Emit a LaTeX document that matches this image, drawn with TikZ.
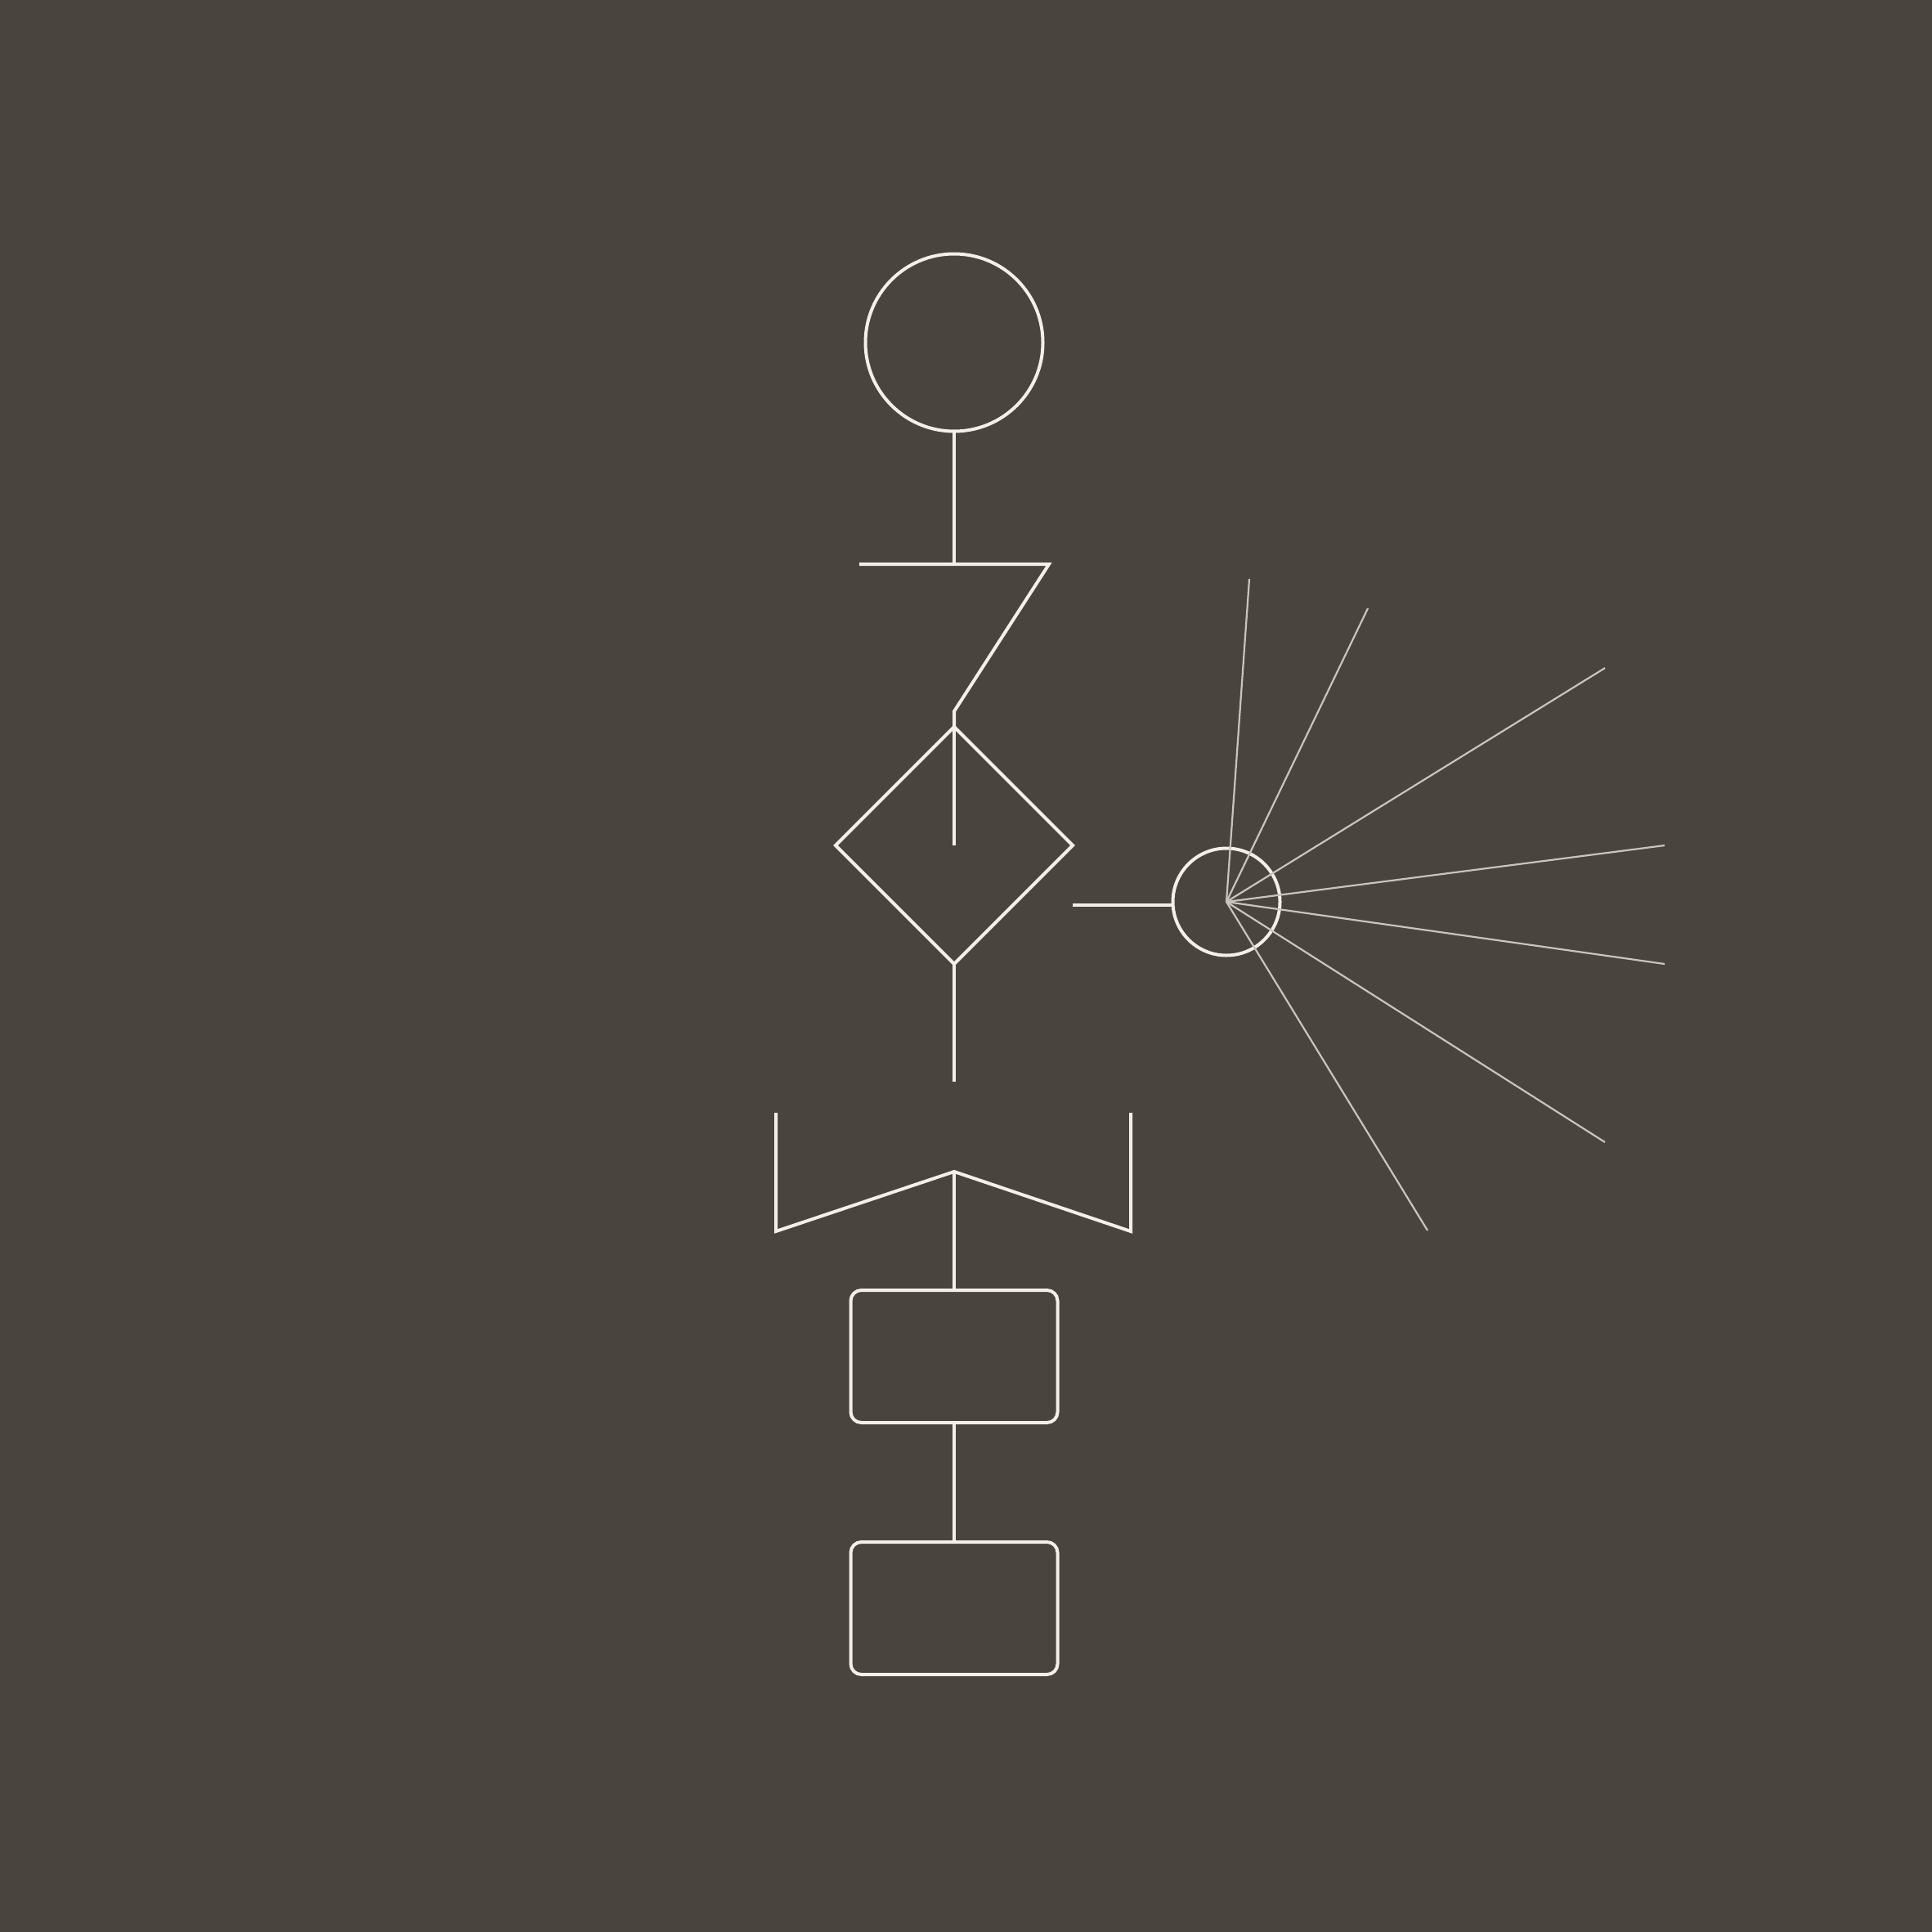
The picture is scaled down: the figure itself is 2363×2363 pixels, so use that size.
\documentclass[tikz,border=0pt]{standalone}
\usepackage{xcolor}
\usepackage{tikz}
\usetikzlibrary{positioning, shapes.geometric, calc}

\definecolor{bgbrown}{HTML}{4A443F}
\definecolor{chalk}{HTML}{F4F0E8}
\definecolor{ash}{HTML}{C9C4BC}

\tikzset{
  stroke/.style={draw=chalk, line width=4pt},
  ray/.style={draw=ash, line width=2.2pt},
  ring/.style={circle, stroke, inner sep=0pt, outer sep=0pt},
  card/.style={rectangle, stroke, rounded corners=13pt, minimum width=253pt, minimum height=162pt, inner sep=0pt, outer sep=0pt},
  rhomb/.style={diamond, aspect=1, stroke, minimum size=290pt, inner sep=0pt, outer sep=0pt}
}

\begin{document}
\begin{tikzpicture}[x=1pt, y=-1pt]
    % background
    \fill[bgbrown] (0,0) rectangle (2363,2363);

    % main column
    \node[ring, minimum size=217pt] (start) at (1167,419) {};
    \node[rhomb] (decision) at (1167,1034) {};
    \node[card] (taskA) at (1167,1659) {};
    \node[card] (taskB) at (1167,1967) {};
    \node[ring, minimum size=131pt] (merge) at (1500,1103) {};

    \coordinate (barL) at (1051,690);
    \coordinate (barM) at (1167,690);
    \coordinate (barR) at (1283,690);
    \coordinate (zig) at (1167,870);
    \coordinate (stub) at (1167,1323);
    \coordinate (tap) at (1312,1107);
    \coordinate (forkL) at (949,1361);
    \coordinate (forkR) at (1383,1361);
    \coordinate (apex) at (1167,1433);

    \draw[stroke] (start.south) -- (barM);
    \draw[stroke] (barL) -- (barR) -- (zig) -- (decision.north);
    \draw[stroke] (decision.north) -- (decision.center);
    \draw[stroke] (decision.south) -- (stub);
    \draw[stroke] (forkL) -- ++(0,145) -- (apex) -- (1383,1506) -- (forkR);
    \draw[stroke] (apex) -- (taskA.north);
    \draw[stroke] (taskA.south) -- (taskB.north);
    \draw[stroke] (tap) -- (tap -| merge.west);

    % rays
    \foreach \px/\py in {1528/708, 1673/744, 1963/817, 2036/1034, 2036/1179, 1963/1397, 1746/1505}
      \draw[ray] (merge.center) -- (\px,\py);
\end{tikzpicture}
\end{document}
